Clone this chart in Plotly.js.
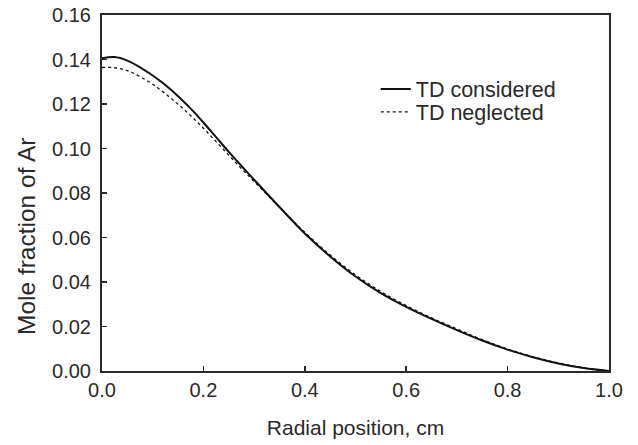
<!DOCTYPE html>
<html>
<head>
<meta charset="utf-8">
<script src="https://cdn.plot.ly/plotly-3.0.1.min.js"></script>
<style>html,body{margin:0;padding:0;background:#fff;}#chart{width:638px;height:445px;}</style>
</head>
<body>
<div id="chart"></div>
<script>
const radialPosition = [0, 0.025, 0.05, 0.075, 0.1, 0.125, 0.15, 0.175, 0.2, 0.225, 0.25, 0.275, 0.3, 0.35, 0.4, 0.45, 0.5, 0.55, 0.6, 0.65, 0.7, 0.75, 0.8, 0.85, 0.9, 0.95, 1.0];
const tdConsidered = [0.1405, 0.1411, 0.1395, 0.1365, 0.1328, 0.1285, 0.1235, 0.1179, 0.1117, 0.1051, 0.0985, 0.0922, 0.0860, 0.0737, 0.0618, 0.0515, 0.0425, 0.0350, 0.0288, 0.0234, 0.0184, 0.0137, 0.0096, 0.0062, 0.0034, 0.0013, 0.0];
const tdNeglected = [0.1364, 0.1363, 0.1350, 0.1323, 0.1289, 0.1246, 0.1199, 0.1147, 0.1091, 0.1031, 0.0970, 0.0910, 0.0852, 0.0736, 0.0623, 0.0521, 0.0432, 0.0357, 0.0294, 0.0239, 0.0189, 0.0141, 0.0099, 0.0064, 0.0036, 0.0014, 0.0];
const seriesNames = ["TD considered", "TD neglected"];
const xTicks = [0, 0.2, 0.4, 0.6, 0.8, 1.0];
const xTickLabels = ["0.0", "0.2", "0.4", "0.6", "0.8", "1.0"];
const yTicks = [0, 0.02, 0.04, 0.06, 0.08, 0.10, 0.12, 0.14, 0.16];
const yTickLabels = ["0.00", "0.02", "0.04", "0.06", "0.08", "0.10", "0.12", "0.14", "0.16"];
const xTitle = "Radial position, cm";
const yTitle = "Mole fraction of Ar";

const fam = "Liberation Sans, Arial, sans-serif";
const ink = "#2a2a2a";
const tickFont = {family: fam, size: 20, color: ink};
const legendFont = {family: fam, size: 21.5, color: ink};
const traces = [
  {x: radialPosition, y: tdConsidered, name: seriesNames[0], type: "scatter", mode: "lines",
   legend: "legend", line: {color: "#111", width: 2, shape: "spline", smoothing: 1}},
  {x: radialPosition, y: tdNeglected, name: seriesNames[1], type: "scatter", mode: "lines",
   legend: "legend2", line: {color: "#111", width: 1.3, dash: "dot", shape: "spline", smoothing: 1}}
];
const legendBase = {xanchor: "left", yanchor: "middle", bgcolor: "rgba(0,0,0,0)", font: legendFont};
const layout = {
  width: 638, height: 445,
  margin: {l: 102, r: 29, t: 15, b: 74},
  paper_bgcolor: "#fff", plot_bgcolor: "#fff",
  font: tickFont,
  showlegend: true,
  legend: Object.assign({x: 0.54, y: 0.792}, legendBase),
  legend2: Object.assign({x: 0.54, y: 0.728}, legendBase),
  xaxis: {
    range: [0, 1.0], tickvals: xTicks, ticktext: xTickLabels,
    showline: true, linecolor: ink, linewidth: 2, mirror: true,
    ticks: "inside", ticklen: 5, tickwidth: 1.5, tickcolor: ink,
    showgrid: false, zeroline: false, tickfont: tickFont,
    title: {text: xTitle, font: {family: fam, size: 21, color: ink}, standoff: 20}
  },
  yaxis: {
    range: [0, 0.16], tickvals: yTicks, ticktext: yTickLabels,
    showline: true, linecolor: ink, linewidth: 2, mirror: true,
    ticks: "inside", ticklen: 5, tickwidth: 1.5, tickcolor: ink,
    showgrid: false, zeroline: false, tickfont: tickFont, ticklabelstandoff: 5
  },
  annotations: [
    {text: yTitle, xref: "paper", yref: "paper", x: -0.15, y: 0.379,
     xanchor: "center", yanchor: "middle", textangle: -90, showarrow: false,
     font: {family: fam, size: 24.5, color: ink}}
  ]
};
Plotly.newPlot("chart", traces, layout, {staticPlot: true, displayModeBar: false});
</script>
</body>
</html>
